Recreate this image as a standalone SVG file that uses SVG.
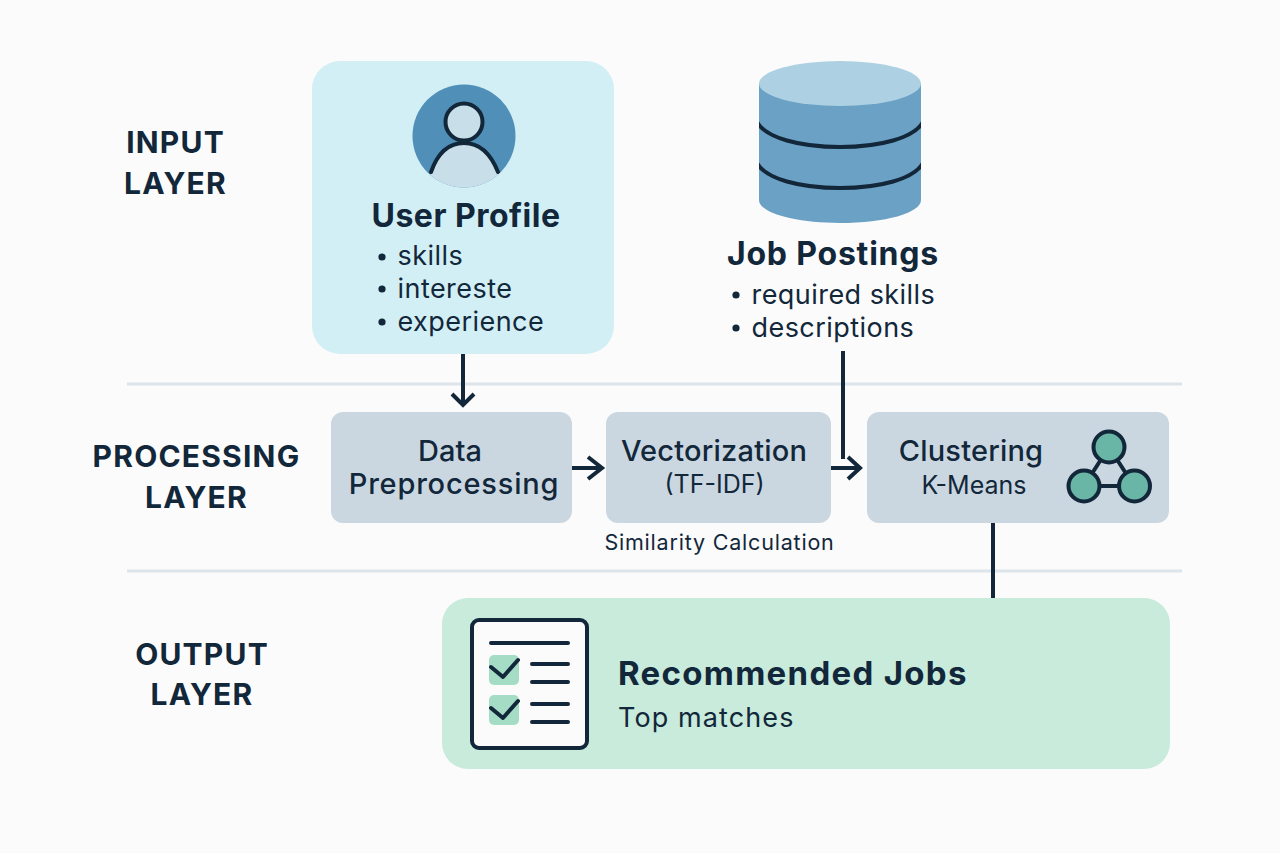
<svg xmlns="http://www.w3.org/2000/svg" width="1280" height="853" viewBox="0 0 1280 853">
<style>
text{font-family:Inter,"Liberation Sans",sans-serif;fill:#12273a}
.layer{font-size:30px;font-weight:700;text-anchor:middle;letter-spacing:1.200px}
.title{font-size:32px;font-weight:700;text-anchor:middle}
.item{font-size:27px;font-weight:400;letter-spacing:.45px}
.head{font-size:29px;font-weight:500;text-anchor:middle}
.sub{font-size:25px;font-weight:400;text-anchor:middle}
.box{fill:#cad7e1}
.line{fill:none;stroke:#12273a;stroke-width:4;stroke-linecap:round;stroke-linejoin:round}
.conn{fill:none;stroke:#12273a;stroke-width:4;stroke-linejoin:miter}
.sep{stroke:#dde5ec;stroke-width:3}
.node{fill:#69b5a6;stroke:#12273a;stroke-width:4}
.dot{fill:#12273a}
</style>
<defs>
<clipPath id="avatar-clip"><circle cx="464" cy="136" r="51.500"/></clipPath>
<clipPath id="cyl-clip"><rect x="759" y="60" width="162" height="165"/></clipPath>
</defs>
<rect width="1280" height="853" fill="#fbfbfb"/>
<g id="separators"><line class="sep" x1="127" y1="384" x2="1182" y2="384"/><line class="sep" x1="127" y1="571" x2="1182" y2="571"/></g>
<g id="layer-labels">
<text class="layer" x="175.500" y="153">INPUT</text><text class="layer" x="175.500" y="194">LAYER</text>
<text class="layer" x="196.500" y="467">PROCESSING</text><text class="layer" x="196.500" y="508">LAYER</text>
<text class="layer" x="202" y="665">OUTPUT</text><text class="layer" x="202" y="705">LAYER</text>
</g>
<g id="user-profile">
<rect x="312" y="61" width="302" height="293" rx="28" fill="#d2eff5"/>
<circle cx="464" cy="136" r="51.500" fill="#4f8fb8"/>
<g clip-path="url(#avatar-clip)">
<path d="M425 195L431 172C438 152 450 143 464 143C478 143 490 152 498 172L505 195Z" fill="#c8dfe9"/>
<path class="line" stroke-linecap="butt" d="M431 172C438 152 450 143 464 143C478 143 490 152 498 172"/>
</g>
<circle cx="464" cy="122" r="18.500" fill="#c8dfe9" stroke="#12273a" stroke-width="4"/>
<text class="title" x="466" y="227" letter-spacing=".5">User Profile</text>
<circle class="dot" cx="382" cy="257" r="3.600"/><circle class="dot" cx="382" cy="289" r="3.600"/><circle class="dot" cx="382" cy="322" r="3.600"/>
<text class="item" x="397.500" y="265">skills</text><text class="item" x="397.500" y="298">intereste</text><text class="item" x="397.500" y="331">experience</text>
</g>
<g id="job-postings">
<path d="M759 84V200C759 213 795 223 840 223C885 223 921 213 921 200V84Z" fill="#6ca1c6"/>
<ellipse cx="840" cy="83.500" rx="81" ry="22.500" fill="#add0e3"/>
<g clip-path="url(#cyl-clip)">
<path class="line" stroke-linecap="butt" d="M757 122C766 138 800 147 840 147C880 147 914 138 923 122"/>
<path class="line" stroke-linecap="butt" d="M757 163C766 179 800 188 840 188C880 188 914 179 923 163"/>
</g>
<text class="title" x="833" y="265" letter-spacing=".8">Job Postings</text>
<circle class="dot" cx="736" cy="295" r="3.600"/><circle class="dot" cx="736" cy="328" r="3.600"/>
<text class="item" x="751.500" y="304">required skills</text><text class="item" x="751.500" y="337">descriptions</text>
</g>
<g id="data-preprocessing">
<rect class="box" x="331" y="412" width="241" height="111" rx="12"/>
<text class="head" x="450" y="461">Data</text>
<text class="head" x="454" y="494" letter-spacing=".8">Preprocessing</text>
</g>
<g id="vectorization">
<rect class="box" x="606" y="412" width="225" height="111" rx="12"/>
<text class="head" x="714" y="461" letter-spacing=".2">Vectorization</text>
<text class="sub" x="714.500" y="493">(TF-IDF)</text>
</g>
<g id="similarity-label"><text x="719.500" y="550" text-anchor="middle" font-size="21.500" letter-spacing=".8">Similarity Calculation</text></g>
<g id="clustering">
<rect class="box" x="867" y="412" width="302" height="111" rx="12"/>
<text class="head" x="971" y="461" letter-spacing=".2">Clustering</text>
<text class="sub" x="974" y="494">K-Means</text>
<path class="line" d="M1109 447L1084 486H1134Z"/>
<circle class="node" cx="1109" cy="447" r="15.500"/><circle class="node" cx="1084" cy="486" r="15.500"/><circle class="node" cx="1134.500" cy="486" r="15.500"/>
</g>
<g id="recommended-jobs">
<rect x="442" y="598" width="728" height="171" rx="26" fill="#c8ebdc"/>
<rect x="472" y="620" width="115" height="128" rx="7" fill="#fbfbfb" stroke="#12273a" stroke-width="4"/>
<path class="line" d="M491 643H568M532 664H568M532 682H568M532 704H568M532 722H568"/>
<rect x="489" y="655" width="30" height="30" rx="5" fill="#a5dcc5"/><rect x="489" y="695" width="30" height="30" rx="5" fill="#a5dcc5"/>
<path class="line" d="M491 667L503 677L518 660M491 708L503 718L518 701"/>
<text x="618" y="685" font-size="33" font-weight="700" letter-spacing="1.300">Recommended Jobs</text>
<text x="618" y="727" font-size="27" letter-spacing="1.100">Top matches</text>
</g>
<g id="connectors">
<path class="conn" d="M463 354V404M452 394L463 405L474 394"/>
<path class="conn" d="M572 468H602M588 457L602 468L588 479"/>
<path class="conn" d="M843 351V459"/>
<path class="conn" d="M831 468H860M848 457L860 468L848 479"/>
<path class="conn" d="M993 523V598"/>
</g>
</svg>
